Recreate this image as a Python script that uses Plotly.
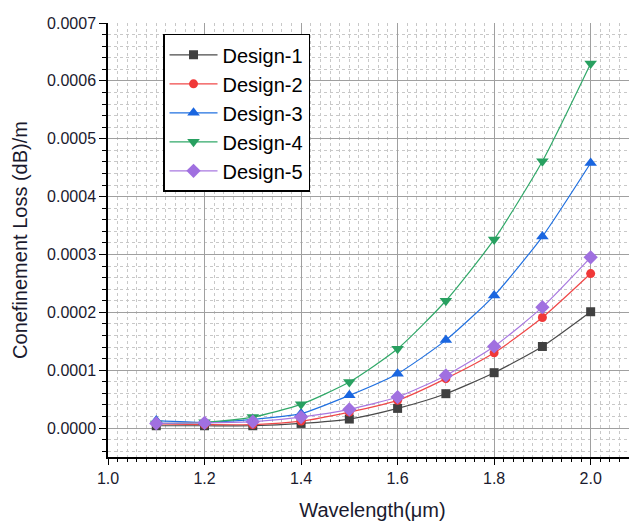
import plotly.graph_objects as go

wavelength = [1.1, 1.2, 1.3, 1.4, 1.5, 1.6, 1.7, 1.8, 1.9, 2.0]
design_1 = [0.000004, 0.000004, 0.000004, 0.000008, 0.0000156, 0.000034, 0.0000594, 0.0000957, 0.000141, 0.000201]
design_2 = [0.000007, 0.000006, 0.000006, 0.000012, 0.0000277, 0.0000479, 0.0000854, 0.000130, 0.000191, 0.000267]
design_3 = [0.000013, 0.000010, 0.000015, 0.000025, 0.0000565, 0.000094, 0.000152, 0.000229, 0.000331, 0.000458]
design_4 = [0.000008, 0.000010, 0.000019, 0.000041, 0.0000795, 0.000137, 0.000220, 0.000326, 0.000461, 0.000630]
design_5 = [0.000008, 0.000009, 0.000011, 0.000019, 0.0000323, 0.0000536, 0.000091, 0.000141, 0.000209, 0.000295]

names = ["Design-1", "Design-2", "Design-3", "Design-4", "Design-5"]
series = [design_1, design_2, design_3, design_4, design_5]
line_colors = ["#4a4a4a", "#f04848", "#2070e0", "#30a868", "#a878e0"]
marker_colors = ["#404040", "#f03838", "#1a66e0", "#28a060", "#a070e0"]
symbols = ["square", "circle", "triangle-up", "triangle-down", "diamond"]
sizes = [9, 9, 11, 11, 11]

fig = go.Figure()
for n, s, lc, mc, sym, sz in zip(names, series, line_colors, marker_colors, symbols, sizes):
    fig.add_trace(go.Scatter(
        x=wavelength, y=s, name=n, mode="lines+markers",
        line=dict(color=lc, width=1.2, shape="spline", smoothing=0.6),
        marker=dict(symbol=sym, color=mc, size=sz, line=dict(width=0)),
    ))

font_family = "Liberation Sans, Arial, sans-serif"
fig.update_layout(
    width=629, height=514,
    margin=dict(l=100, r=0, t=15, b=65),
    paper_bgcolor="white", plot_bgcolor="white",
    font=dict(family=font_family, color="#1a1a2e"),
    showlegend=True,
    legend=dict(
        x=0.104, y=0.975, xanchor="left", yanchor="top",
        bordercolor="black", borderwidth=1.5, bgcolor="white",
        font=dict(size=20, color="black", family=font_family),
        itemwidth=48, tracegroupgap=0,
    ),
    xaxis=dict(
        range=[1.0, 2.096], tickmode="linear", tick0=1.0, dtick=0.2,
        tickformat=".1f", ticks="outside", ticklen=6, tickwidth=1.2, tickcolor="black",
        showline=True, linecolor="black", linewidth=1.5,
        showgrid=True, gridcolor="#a0a0a0", gridwidth=1.2,
        zeroline=False,
        minor=dict(dtick=0.02, ticks="outside", ticklen=3, tickcolor="black",
                   showgrid=True, gridcolor="#c8c8c8", griddash="dot", gridwidth=1),
        tickfont=dict(size=16),
        title=dict(text="Wavelength(μm)", font=dict(size=20), standoff=17),
    ),
    yaxis=dict(
        range=[-0.00005, 0.0007], tickmode="linear", tick0=0, dtick=0.0001,
        tickformat=".4f", ticks="outside", ticklen=7, tickwidth=1.2, tickcolor="black",
        showline=True, linecolor="black", linewidth=1.5,
        showgrid=True, gridcolor="#a0a0a0", gridwidth=1.2,
        zeroline=False,
        minor=dict(dtick=0.00002, ticks="outside", ticklen=4, tickcolor="black",
                   showgrid=True, gridcolor="#c8c8c8", griddash="dot", gridwidth=1),
        tickfont=dict(size=16),
        title=dict(text="Conefinement Loss (dB)/m", font=dict(size=20), standoff=14),
    ),
)

fig.write_html("out.html")
